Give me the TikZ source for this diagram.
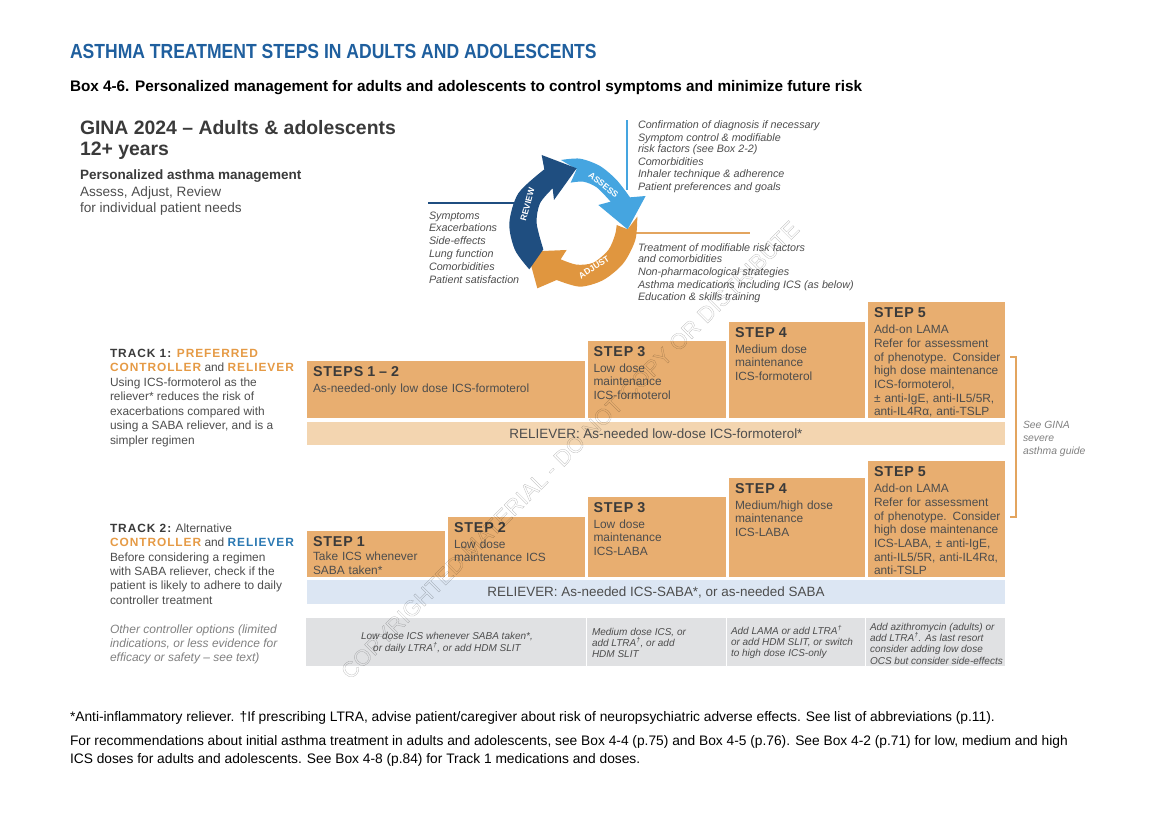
\documentclass[tikz,border=0pt]{standalone}
\usepackage{fontspec}
\setmainfont{Liberation Sans}
\definecolor{titleblue}{HTML}{1F5F9E}
\definecolor{boxorange}{HTML}{E8AE70}
\definecolor{relorange}{HTML}{F3D5B0}
\definecolor{relblue}{HTML}{DCE6F3}
\definecolor{optgray}{HTML}{E0E1E3}
\definecolor{bodytxt}{HTML}{4D4D4D}
\definecolor{headtxt}{HTML}{3A3A3A}
\definecolor{txtorange}{HTML}{E59A45}
\definecolor{txtblue}{HTML}{2A78B2}
\definecolor{cycdark}{HTML}{1F4E80}
\definecolor{cyclight}{HTML}{45A5E0}
\definecolor{cycorange}{HTML}{E0963F}
\definecolor{linebr}{HTML}{E3A55F}
\newcommand{\fs}[2]{\fontsize{#1pt}{#2pt}\selectfont}
\newcommand{\stephd}[1]{{\fs{14.3}{19}\bfseries\addfontfeature{LetterSpace=6}\color{headtxt}#1\par}\vspace{2pt}}
\newcommand{\tr}[1]{{\bfseries\addfontfeature{LetterSpace=8}#1}}
\tikzset{
 txt/.style={anchor=north west,inner sep=0pt,outer sep=0pt,align=left},
 boxfill/.style={anchor=north west,inner sep=0pt,outer sep=0pt,fill=#1,minimum width=0pt},
 bodyt/.style={txt,text=bodytxt,font=\fs{11.9}{13.6}},
 cyctxt/.style={txt,text=bodytxt,font=\fs{10.75}{12.8}\itshape},
 opttxt/.style={txt,text=bodytxt,font=\fs{10}{11.3}\itshape},
 tracktxt/.style={txt,text=bodytxt,font=\fs{11.9}{14.45}},
 foot/.style={txt,text=black,font=\fs{13.77}{18}},
 cyclab/.style={inner sep=0pt,text=white,font=\fs{8.6}{9}\bfseries},
}
\newcommand{\stepbox}[7]{%
 \node[boxfill=boxorange,minimum width={(#4-#2)*1pt},minimum height={(#5-#3)*1pt}] (#1) at (#2,#3) {};
 \node[bodyt,text width={(#4-#2-8)*1pt}] (#1-t) at ([xshift=6pt,yshift=-5.5pt]#1.north west) {\stephd{#6}#7};
}
\newcommand{\band}[7]{%
 \node[boxfill=#6,minimum width={(#4-#2)*1pt},minimum height={(#5-#3)*1pt}] (#1) at (#2,#3) {};
 \node[inner sep=0pt,text=bodytxt,font=\fs{13.45}{15}] (#1-t) at (#1.center) {#7};
}
\begin{document}
\begin{tikzpicture}[x=1pt,y=-1pt]
\useasboundingbox (0,0) rectangle (1170,830);
% titles
\node[txt,text=titleblue,font=\fs{20.4}{22}\bfseries,xscale=.86] (title) at (70,44) {ASTHMA TREATMENT STEPS IN ADULTS AND ADOLESCENTS};
\node[txt,text=black,font=\fs{15.3}{17}\bfseries] (boxtitle) at (70,80) {Box 4-6. Personalized management for adults and adolescents to control symptoms and minimize future risk};
\node[txt,text=headtxt,font=\fs{19.4}{21}\bfseries] (gina) at (80,120.5) {GINA 2024 – Adults \& adolescents\\12+ years};
\node[txt,text=headtxt,font=\fs{13.5}{14.5}\bfseries] (pers) at (80,170) {Personalized asthma management};
\node[txt,text=bodytxt,font=\fs{13.6}{16}] (pers2) at (80,187) {Assess, Adjust, Review\\for individual patient needs};
% connector lines
\coordinate (la) at (627,120); \coordinate (lb) at (627,190);
\coordinate (ra) at (428,203); \coordinate (rb) at (515,203);
\coordinate (aa) at (634,233); \coordinate (ab) at (750,233);
\draw[cyclight,line width=1.4pt] (la) -- (lb);
\draw[cycdark,line width=1.4pt] (ra) -- (rb);
\draw[linebr,line width=1.4pt] (aa) -- (ab);
% cycle
\begin{scope}[shift={(400,110)},x=.3333pt,y=-.3333pt]
\fill[cyclight] plot[smooth] coordinates {(483,150)(540,146)(600,168)(650,210)(690,262)} -- (737,258) -- (683,358) -- (595,285) -- (632,275) -- plot[smooth] coordinates {(632,275)(590,232)(550,215)(512,218)} -- (530,178) -- cycle;
\fill[cycorange] plot[smooth] coordinates {(712,320)(706,390)(670,460)(610,510)(540,530)(470,510)} -- (412,535) -- (382,425) -- (500,420) -- (482,448) -- plot[smooth] coordinates {(482,448)(530,464)(580,458)(625,420)(645,375)(650,345)} -- (683,358) -- cycle;
\fill[cycdark] plot[smooth] coordinates {(388,478)(345,420)(328,340)(355,250)(433,178)} -- (425,135) -- (530,175) -- (462,270) -- (458,235) -- plot[smooth] coordinates {(458,235)(420,280)(410,340)(430,418)} -- cycle;
\end{scope}
\node[cyclab,rotate=75] (lreview) at (527.5,204.5) {REVIEW};
\node[cyclab,rotate=-38] (lassess) at (603.5,185) {ASSESS};
\node[cyclab,rotate=33] (ladjust) at (594,267.5) {ADJUST};
% cycle texts
\node[cyctxt] (asstxt) at (638,120.5) {Confirmation of diagnosis if necessary\\Symptom control \& modifiable\\[-1.5pt]risk factors (see Box 2-2)\\Comorbidities\\Inhaler technique \& adherence\\Patient preferences and goals};
\node[cyctxt] (revtxt) at (429,211.5) {Symptoms\\Exacerbations\\Side-effects\\Lung function\\Comorbidities\\Patient satisfaction};
\node[cyctxt] (adjtxt) at (638,243.5) {Treatment of modifiable risk factors\\[-1.5pt]and comorbidities\\Non-pharmacological strategies\\Asthma medications including ICS (as below)\\Education \& skills training};
% track 1 boxes
\stepbox{oa}{307}{361}{585}{418}{STEPS 1 – 2}{As-needed-only low dose ICS-formoterol}
\stepbox{ob}{587.5}{341}{725.7}{418}{STEP 3}{Low dose\\maintenance\\ICS-formoterol}
\stepbox{oc}{729}{322}{865}{418}{STEP 4}{Medium dose\\maintenance\\ICS-formoterol}
\stepbox{od}{868}{302}{1005}{418}{STEP 5}{Add-on LAMA\\[1pt]Refer for assessment\\of phenotype. Consider\\high dose maintenance\\ICS-formoterol,\\± anti-IgE, anti-IL5/5R,\\anti-IL4Rα, anti-TSLP}
\band{relone}{307}{422}{1005}{445}{relorange}{RELIEVER: As-needed low-dose ICS-formoterol*}
% track 2 boxes
\stepbox{ta}{307}{531}{445}{577}{STEP 1\vspace{-1.5pt}}{Take ICS whenever\\SABA taken*}
\stepbox{tb}{448}{517}{585}{577}{STEP 2}{Low dose\\maintenance ICS}
\stepbox{tc}{587.5}{497}{725.7}{577}{STEP 3}{Low dose\\maintenance\\ICS-LABA}
\stepbox{td}{729}{478}{865}{577}{STEP 4}{Medium/high dose\\maintenance\\ICS-LABA}
\stepbox{te}{868}{461}{1005}{577}{STEP 5}{Add-on LAMA\\[1pt]Refer for assessment\\of phenotype. Consider\\high dose maintenance\\ICS-LABA, ± anti-IgE,\\anti-IL5/5R, anti-IL4Rα,\\anti-TSLP}
\band{reltwo}{307}{580}{1005}{604}{relblue}{RELIEVER: As-needed ICS-SABA*, or as-needed SABA}
% other options
\node[boxfill=optgray,minimum width=280pt,minimum height=48pt] (ga) at (306,618) {};
\node[boxfill=optgray,minimum width=139pt,minimum height=48pt] (gb) at (586.5,618) {};
\node[boxfill=optgray,minimum width=138pt,minimum height=48pt] (gc) at (726.5,618) {};
\node[boxfill=optgray,minimum width=139pt,minimum height=48pt] (gd) at (865.5,618) {};
\node[opttxt,anchor=center,align=center] (gat) at (447,643) {Low dose ICS whenever SABA taken*,\\or daily LTRA\textsuperscript{†}, or add HDM SLIT};
\node[opttxt] (gbt) at (592,628) {Medium dose ICS, or\\add LTRA\textsuperscript{†}, or add\\HDM SLIT};
\node[opttxt] (gct) at (731,625.5) {Add LAMA or add LTRA\textsuperscript{†}\\or add HDM SLIT, or switch\\to high dose ICS-only};
\node[opttxt] (gdt) at (870,623) {Add azithromycin (adults) or\\add LTRA\textsuperscript{†}. As last resort\\consider adding low dose\\OCS but consider side-effects};
% bracket
\coordinate (ba) at (1010,357); \coordinate (bb) at (1010,517);
\draw[linebr,line width=1.5pt] (ba) -- (1016,357) -- (1016,517) -- (bb);
\node[txt,text=gray,font=\fs{10.4}{13}\itshape] (guide) at (1023,421.5) {See GINA\\severe\\asthma guide};
% track labels
\node[tracktxt] (trone) at (110,349) {\tr{\color{headtxt}TRACK 1: \color{txtorange}PREFERRED}\\\tr{\color{txtorange}CONTROLLER} and \tr{\color{txtorange}RELIEVER}\\Using ICS-formoterol as the\\reliever* reduces the risk of\\exacerbations compared with\\using a SABA reliever, and is a\\simpler regimen};
\node[tracktxt] (trtwo) at (110,523.5) {\tr{\color{headtxt}TRACK 2:} Alternative\\\tr{\color{txtorange}CONTROLLER} and \tr{\color{txtblue}RELIEVER}\\Before considering a regimen\\with SABA reliever, check if the\\patient is likely to adhere to daily\\controller treatment};
\node[tracktxt,text=gray,font=\fs{12}{14.3}\itshape] (other) at (110,624.5) {Other controller options (limited\\indications, or less evidence for\\efficacy or safety – see text)};
% footnotes
\node[foot] (fa) at (70,712) {*Anti-inflammatory reliever. †If prescribing LTRA, advise patient/caregiver about risk of neuropsychiatric adverse effects. See list of abbreviations (p.11).};
\node[foot] (fb) at (70,735.5) {For recommendations about initial asthma treatment in adults and adolescents, see Box 4-4 (p.75) and Box 4-5 (p.76). See Box 4-2 (p.71) for low, medium and high\\ICS doses for adults and adolescents. See Box 4-8 (p.84) for Track 1 medications and doses.};
% watermark
\begin{scope}[blend mode=multiply]
\node[inner sep=0pt,rotate=45,text=black!45,font=\fs{22.4}{24}] (wm) at (570,450) {\special{pdf:code 1 Tr 0.3 w 0.75 G}COPYRIGHTED MATERIAL - DO NOT COPY OR DISTRIBUTE};
\end{scope}
\end{tikzpicture}
\end{document}
